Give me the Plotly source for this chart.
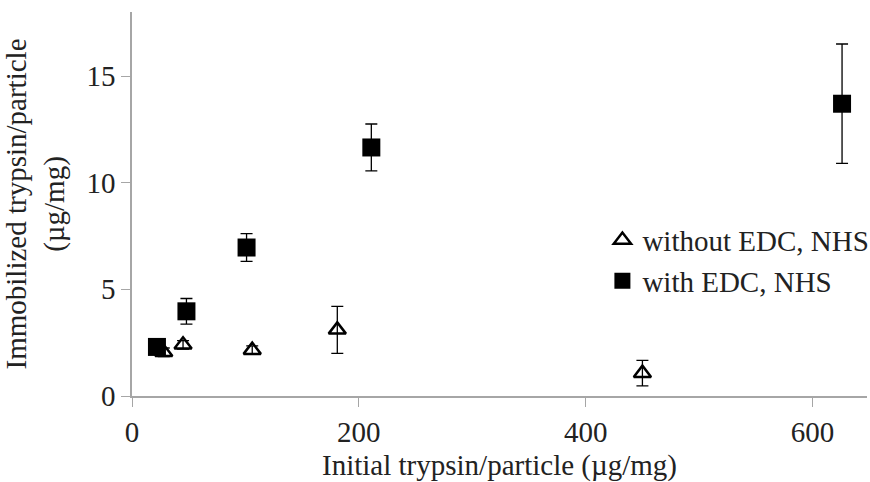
import plotly.graph_objects as go

# Data
x_without = [28, 45, 106, 181, 450]
y_without = [2.05, 2.4, 2.15, 3.1, 1.07]
err_without = [0.2, 0.2, 0.2, 1.1, 0.6]

x_with = [22, 48, 101, 211, 626]
y_with = [2.3, 3.97, 6.96, 11.65, 13.7]
err_with = [0.15, 0.6, 0.65, 1.1, 2.8]

x_ticks = [0, 200, 400, 600]
y_ticks = [0, 5, 10, 15]

FONT = "Liberation Serif"
FS = 29
TXT = "#222"

fig = go.Figure()
fig.add_trace(go.Scatter(
    x=x_without, y=y_without, mode="markers", name="without EDC, NHS",
    marker=dict(symbol="triangle-up-open", size=15, color="black", line=dict(width=2.5, color="black")),
    error_y=dict(type="data", array=err_without, color="black", thickness=1.3, width=6),
))
fig.add_trace(go.Scatter(
    x=x_with, y=y_with, mode="markers", name="with EDC, NHS",
    marker=dict(symbol="square", size=18, color="black", line=dict(width=0)),
    error_y=dict(type="data", array=err_with, color="black", thickness=1.3, width=6),
))

fig.update_layout(
    width=870, height=482,
    margin=dict(l=132, r=3, t=12, b=86, autoexpand=False),
    paper_bgcolor="white", plot_bgcolor="white",
    font=dict(family=FONT, size=FS, color=TXT),
    showlegend=True,
    legend=dict(x=0.64, y=0.472, xanchor="left", yanchor="top",
                font=dict(family=FONT, size=FS, color=TXT),
                bgcolor="rgba(0,0,0,0)", itemsizing="trace"),
)
fig.update_xaxes(
    range=[0, 648], tickvals=x_ticks, showgrid=False, zeroline=False, automargin=False,
    showline=True, linecolor="#a6a6a6", linewidth=1.5,
    ticks="outside", ticklen=9, tickcolor="#a6a6a6",
    tickfont=dict(family=FONT, size=FS, color=TXT),
    title=dict(text="Initial trypsin/particle (µg/mg)", font=dict(family=FONT, size=FS, color=TXT), standoff=18),
)
fig.update_yaxes(
    range=[0, 18], tickvals=y_ticks, showgrid=False, zeroline=False, automargin=False,
    showline=True, linecolor="#a6a6a6", linewidth=1.5,
    ticks="outside", ticklen=9, tickcolor="#a6a6a6",
    tickfont=dict(family=FONT, size=FS, color=TXT),
    title=dict(text="Immobilized trypsin/particle<br>(µg/mg)", font=dict(family=FONT, size=FS, color=TXT), standoff=18),
)

fig.write_html("out.html", config={"displayModeBar": False},
               post_script="document.body.style.margin='0';")
